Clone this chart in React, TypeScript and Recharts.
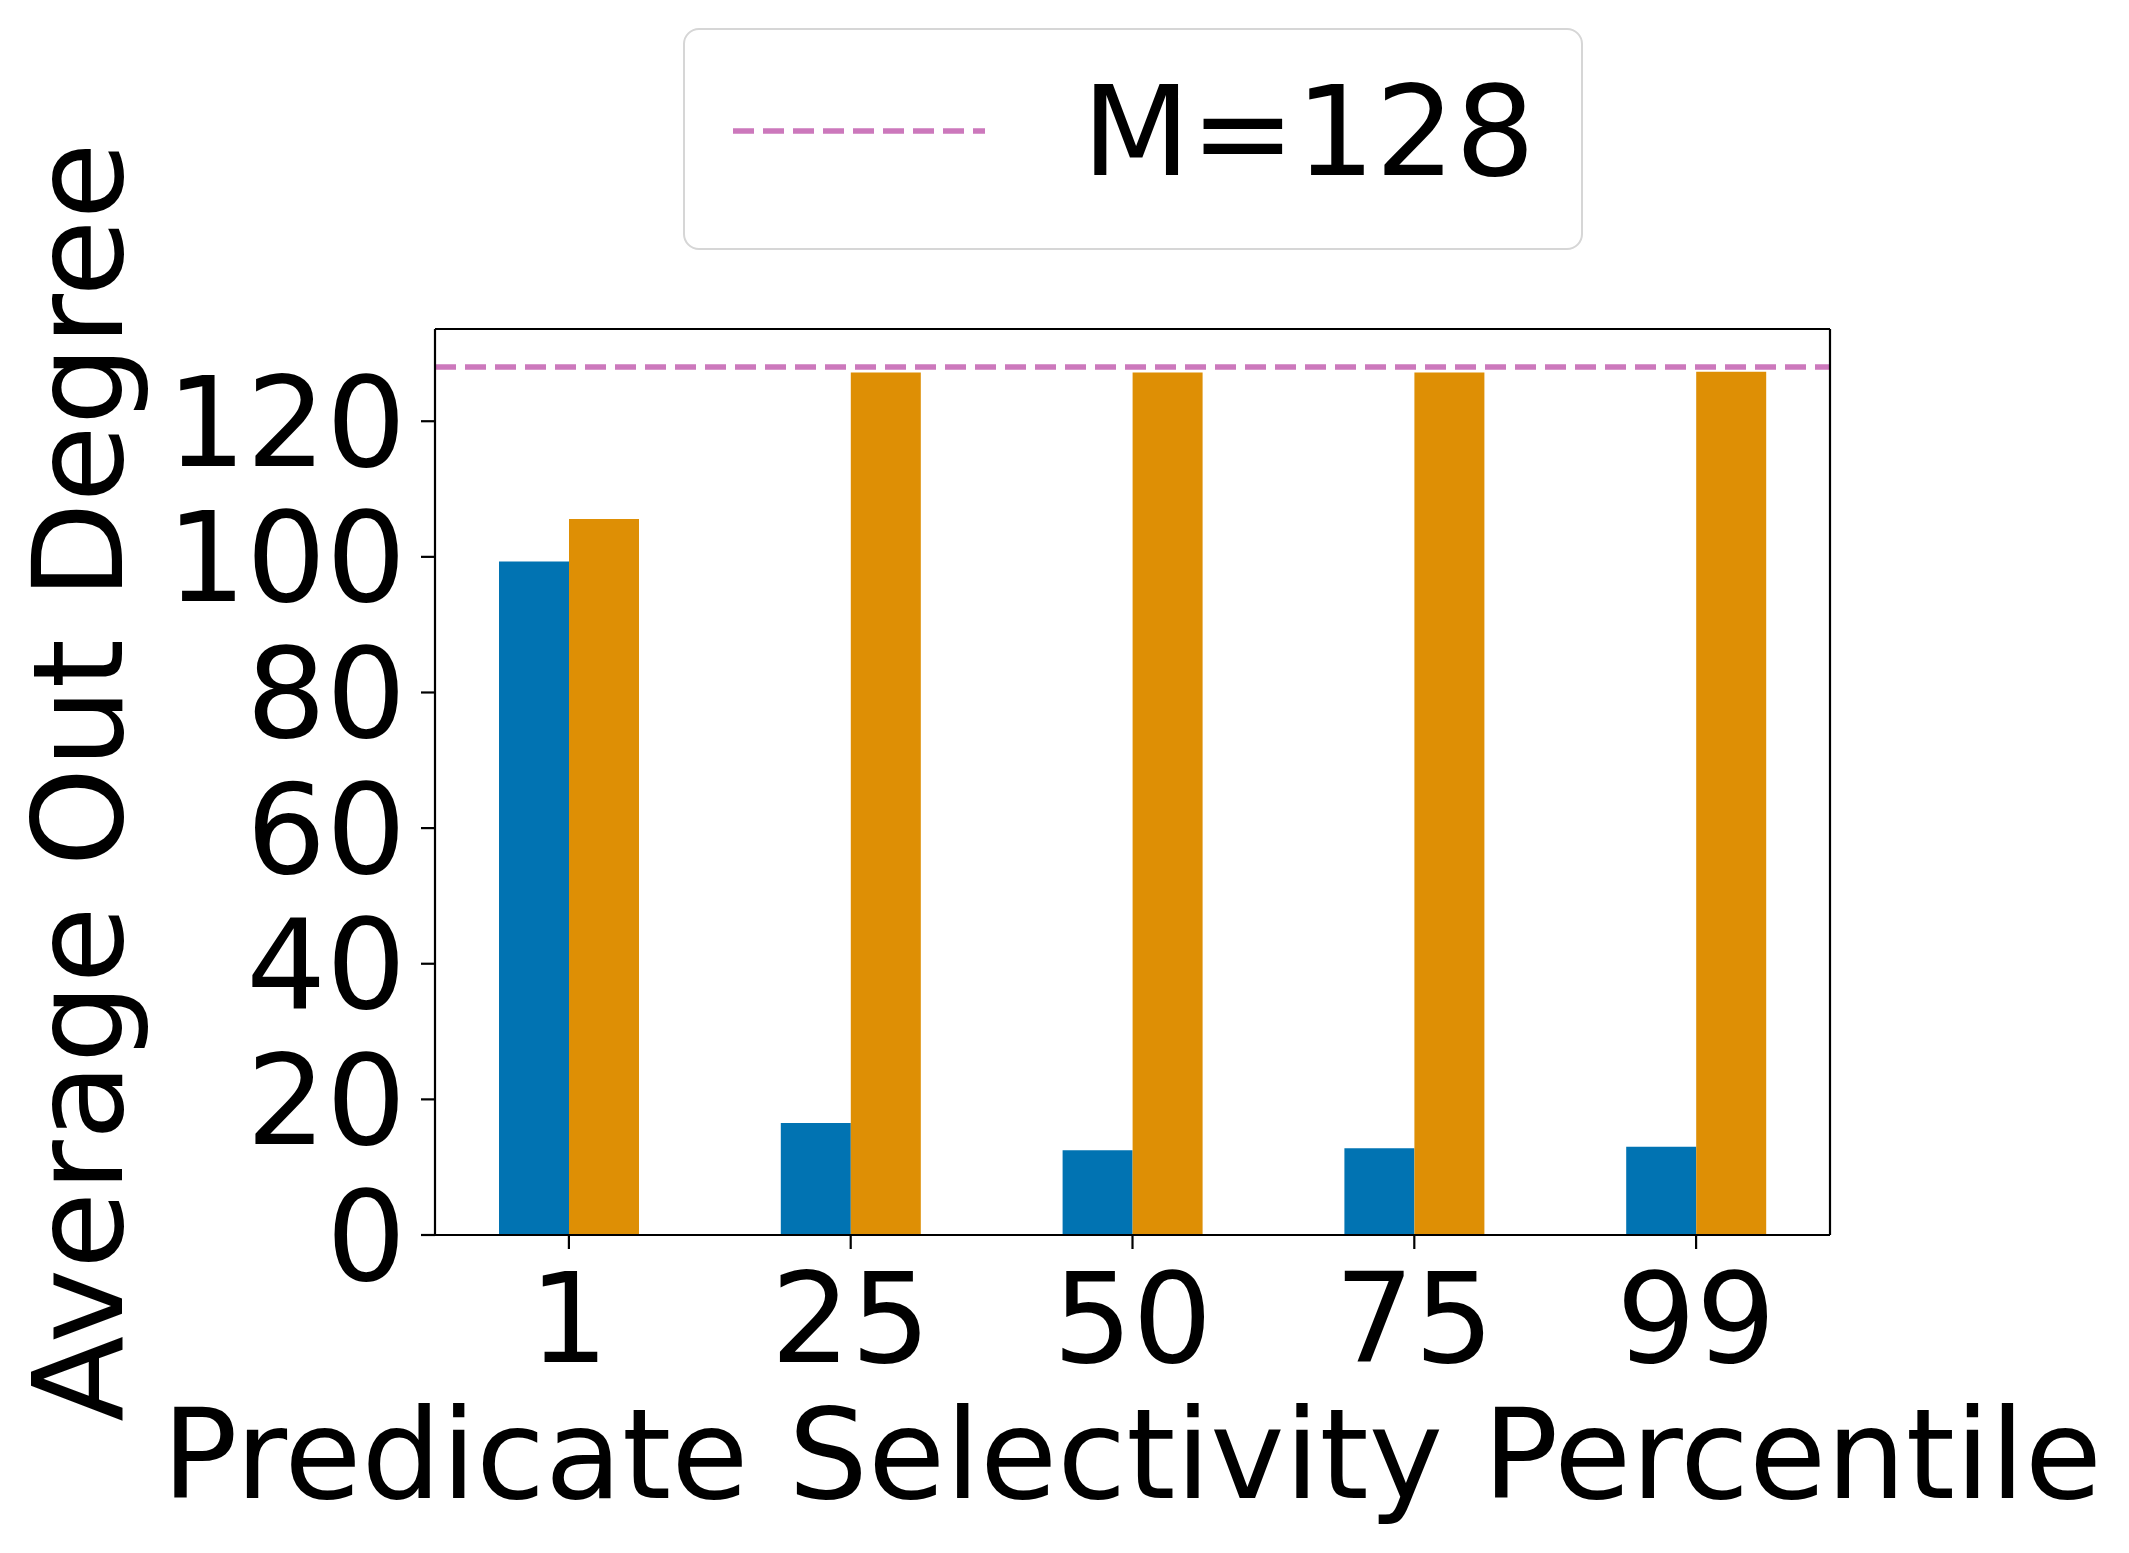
import React from "react";
import {
  BarChart,
  Bar,
  XAxis,
  YAxis,
  ReferenceLine,
  Legend,
} from "recharts";

const percentiles = ["1", "25", "50", "75", "99"];
const blueValues = [99.3, 16.5, 12.5, 12.8, 13.0];
const orangeValues = [105.6, 127.2, 127.2, 127.2, 127.3];
const yTicks = [0, 20, 40, 60, 80, 100, 120];
const yMax = 133.6;
const refValue = 128;
const refLabel = "M=128";

const FONT = "DejaVu Sans";
const FS = 125.5;
const BLUE = "#0173b2";
const ORANGE = "#de8f05";
const PINK = "#cc78bc";

const data = percentiles.map((p, i) => ({
  name: p,
  filtered: blueValues[i],
  unfiltered: orangeValues[i],
}));

function LegendBox() {
  return (
    <div
      style={{
        position: "absolute",
        left: 683,
        top: 28,
        width: 900,
        height: 222,
        boxSizing: "border-box",
        border: "2.5px solid #d6d6d6",
        borderRadius: 16,
        background: "rgba(255,255,255,0.8)",
      }}
    >
      <svg width={900} height={222} style={{ position: "absolute", left: -2.5, top: -2.5 }}>
        <line x1={50} x2={302} y1={103} y2={103} stroke={PINK} strokeWidth={5.5} strokeDasharray="21 9" />
        <text x={399} y={147} fontFamily={FONT} fontSize={FS} fill="#000">
          {refLabel}
        </text>
      </svg>
    </div>
  );
}

export default function App() {
  return (
    <div style={{ position: "absolute", left: 0, top: 0, width: 2129, height: 1553, background: "#fff" }}>
      <BarChart
        width={2129}
        height={1553}
        data={data}
        barGap={0}
        margin={{ top: 328, right: 298, bottom: 168, left: 135 }}
      >
        <XAxis
          dataKey="name"
          height={150}
          padding={{ left: -7, right: -7 }}
          interval={0}
          tickSize={14}
          tickMargin={24}
          tick={{ fontSize: FS, fill: "#000", fontFamily: FONT }}
          axisLine={{ stroke: "#000", strokeWidth: 2.2 }}
          tickLine={{ stroke: "#000", strokeWidth: 2.2 }}
        />
        <XAxis
          xAxisId="top"
          dataKey="name"
          orientation="top"
          height={1}
          tick={false}
          tickLine={false}
          axisLine={{ stroke: "#000", strokeWidth: 2.2 }}
        />
        <YAxis
          width={300}
          domain={[0, yMax]}
          ticks={yTicks}
          interval={0}
          allowDataOverflow
          tickSize={14}
          tickMargin={15}
          tick={{ fontSize: FS, fill: "#000", fontFamily: FONT }}
          axisLine={{ stroke: "#000", strokeWidth: 2.2 }}
          tickLine={{ stroke: "#000", strokeWidth: 2.2 }}
        />
        <YAxis
          yAxisId="right"
          orientation="right"
          width={1}
          domain={[0, yMax]}
          tick={false}
          tickLine={false}
          axisLine={{ stroke: "#000", strokeWidth: 2.2 }}
        />
        <Bar dataKey="filtered" fill={BLUE} barSize={70} isAnimationActive={false} />
        <Bar dataKey="unfiltered" fill={ORANGE} barSize={70} isAnimationActive={false} />
        <ReferenceLine y={refValue} stroke={PINK} strokeWidth={5.5} strokeDasharray="21 9" />
        <ReferenceLine y={yMax} stroke="#000" strokeWidth={2.2} />
        <Legend
          layout="vertical"
          align="center"
          verticalAlign="middle"
          wrapperStyle={{ position: "absolute", left: 0, top: 0, width: 0, height: 0 }}
          content={() => <LegendBox />}
        />
        <text
          x={79}
          y={782}
          transform="rotate(-90 79 782)"
          textAnchor="middle"
          dominantBaseline="central"
          fontFamily={FONT}
          fontSize={FS}
          fill="#000"
        >
          Average Out Degree
        </text>
        <text x={1132} y={1498} textAnchor="middle" fontFamily={FONT} fontSize={FS} fill="#000">
          Predicate Selectivity Percentile
        </text>
      </BarChart>
    </div>
  );
}
